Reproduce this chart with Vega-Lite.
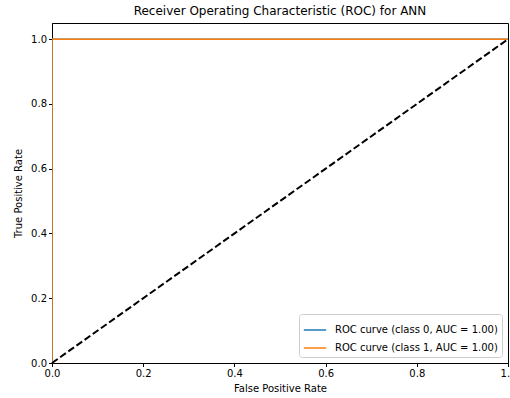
{
  "$schema": "https://vega.github.io/schema/vega-lite/v6.json",
  "autosize": "none",
  "width": 456,
  "height": 340,
  "padding": {"left": 52, "top": 23, "right": 2, "bottom": 35},
  "background": "white",
  "title": {"text": "Receiver Operating Characteristic (ROC) for ANN", "font": "DejaVu Sans", "fontSize": 12, "fontWeight": "normal", "color": "#000", "offset": 5},
  "config": {
    "view": {"stroke": "#000", "strokeWidth": 1},
    "axis": {"grid": false, "labelFont": "DejaVu Sans", "titleFont": "DejaVu Sans", "labelFontSize": 10, "titleFontSize": 10, "titleFontWeight": "normal", "labelColor": "#000", "titleColor": "#000", "tickColor": "#000", "domainColor": "#000", "tickSize": 3.5, "domainWidth": 1}
  },
  "datasets": {
    "roc": [
      {"fpr": 0, "tpr": 0, "series": "ROC curve (class 0, AUC = 1.00)", "ord": 0},
      {"fpr": 0, "tpr": 1, "series": "ROC curve (class 0, AUC = 1.00)", "ord": 1},
      {"fpr": 1, "tpr": 1, "series": "ROC curve (class 0, AUC = 1.00)", "ord": 2},
      {"fpr": 0, "tpr": 0, "series": "ROC curve (class 1, AUC = 1.00)", "ord": 0},
      {"fpr": 0, "tpr": 1, "series": "ROC curve (class 1, AUC = 1.00)", "ord": 1},
      {"fpr": 1, "tpr": 1, "series": "ROC curve (class 1, AUC = 1.00)", "ord": 2}
    ],
    "diag": [
      {"fpr": 0, "tpr": 0},
      {"fpr": 1, "tpr": 1}
    ]
  },
  "layer": [
    {
      "data": {"name": "roc"},
      "mark": {"type": "line", "strokeWidth": 1.5, "clip": true},
      "encoding": {
        "x": {"field": "fpr", "type": "quantitative", "scale": {"domain": [0, 1], "nice": false, "zero": false}, "axis": {"title": "False Positive Rate", "values": [0, 0.2, 0.4, 0.6, 0.8, 1.0], "format": ".1f", "labelFlush": false, "titlePadding": 5}},
        "y": {"field": "tpr", "type": "quantitative", "scale": {"domain": [0, 1.05], "nice": false, "zero": false}, "axis": {"title": "True Positive Rate", "values": [0, 0.2, 0.4, 0.6, 0.8, 1.0], "format": ".1f", "labelFlush": false, "titlePadding": 7}},
        "order": {"field": "ord"},
        "color": {"field": "series", "type": "nominal", "scale": {"range": ["#1f77b4", "#ff7f0e"]}, "legend": {"title": null, "orient": "bottom-right", "offset": 6, "symbolType": "stroke", "symbolStrokeWidth": 1.5, "symbolSize": 500, "labelFont": "DejaVu Sans", "labelFontSize": 10, "labelColor": "#000", "strokeColor": "#ccc", "fillColor": "white", "padding": 4, "cornerRadius": 3, "rowPadding": 1, "labelOffset": 8, "labelLimit": 300}}
      }
    },
    {
      "data": {"name": "diag"},
      "mark": {"type": "line", "color": "black", "strokeWidth": 2, "strokeDash": [7, 3]},
      "encoding": {
        "x": {"field": "fpr", "type": "quantitative"},
        "y": {"field": "tpr", "type": "quantitative"}
      }
    }
  ]
}
